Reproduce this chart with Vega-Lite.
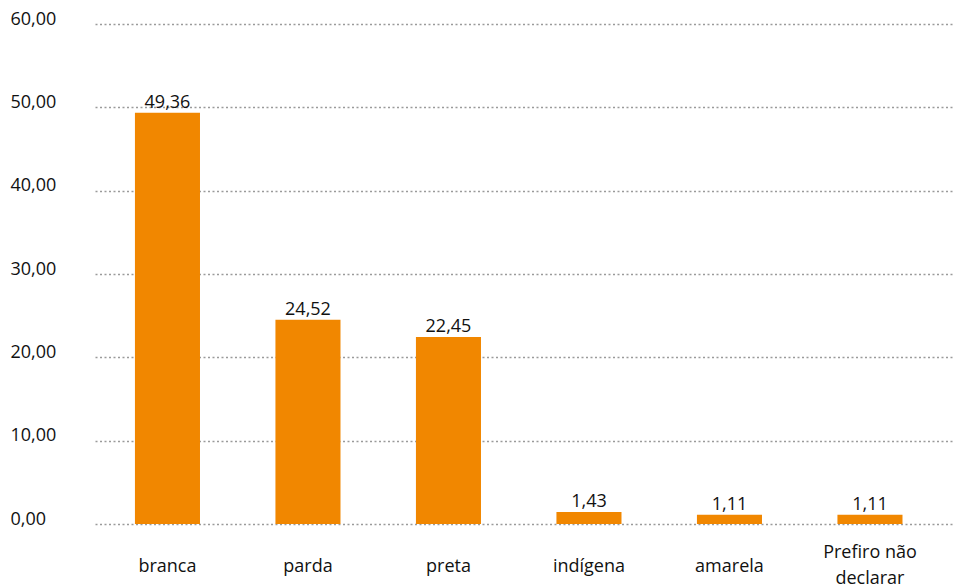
{
  "$schema": "https://vega.github.io/schema/vega-lite/v6.json",
  "width": 860,
  "height": 500,
  "autosize": "none",
  "padding": {"left": 95, "top": 24, "right": 0, "bottom": 61},
  "background": "white",
  "config": {
    "view": {"stroke": null},
    "font": "Open Sans",
    "locale": {"number": {"decimal": ",", "thousands": ".", "grouping": [3], "currency": ["R$", ""]}}
  },
  "data": {
    "values": [
      {"cor": "branca", "valor": 49.36},
      {"cor": "parda", "valor": 24.52},
      {"cor": "preta", "valor": 22.45},
      {"cor": "indígena", "valor": 1.43},
      {"cor": "amarela", "valor": 1.11},
      {"cor": "Prefiro não declarar", "valor": 1.11}
    ]
  },
  "encoding": {
    "x": {
      "field": "cor",
      "type": "nominal",
      "sort": null,
      "scale": {"paddingInner": 0.537, "paddingOuter": 0.329, "align": 0.432},
      "axis": {
        "title": null,
        "labelAngle": 0,
        "ticks": false,
        "domain": false,
        "labelFontSize": 18,
        "labelColor": "#111",
        "labelBaseline": "middle",
        "labelPadding": {"condition": {"test": "datum.value == 'Prefiro não declarar'", "value": 28}, "value": 42},
        "labelLineHeight": 26,
        "labelExpr": "datum.value == 'Prefiro não declarar' ? ['Prefiro não', 'declarar'] : datum.value"
      }
    },
    "y": {
      "field": "valor",
      "type": "quantitative",
      "scale": {"domain": [0, 60], "nice": false},
      "axis": {
        "title": null,
        "values": [0, 10, 20, 30, 40, 50, 60],
        "format": ".2f",
        "domain": false,
        "ticks": false,
        "labelAlign": "left",
        "labelBaseline": "alphabetic",
        "labelPadding": 85,
        "labelFontSize": 18,
        "labelColor": "#111",
        "gridColor": "#9a9a9a",
        "gridDash": [2, 2.5],
        "gridWidth": 1.5
      }
    }
  },
  "layer": [
    {"mark": {"type": "bar", "color": "#F18700"}},
    {
      "mark": {"type": "text", "baseline": "alphabetic", "dy": -5, "fontSize": 18, "color": "#111"},
      "encoding": {"text": {"field": "valor", "type": "quantitative", "format": ".2f"}}
    }
  ]
}
